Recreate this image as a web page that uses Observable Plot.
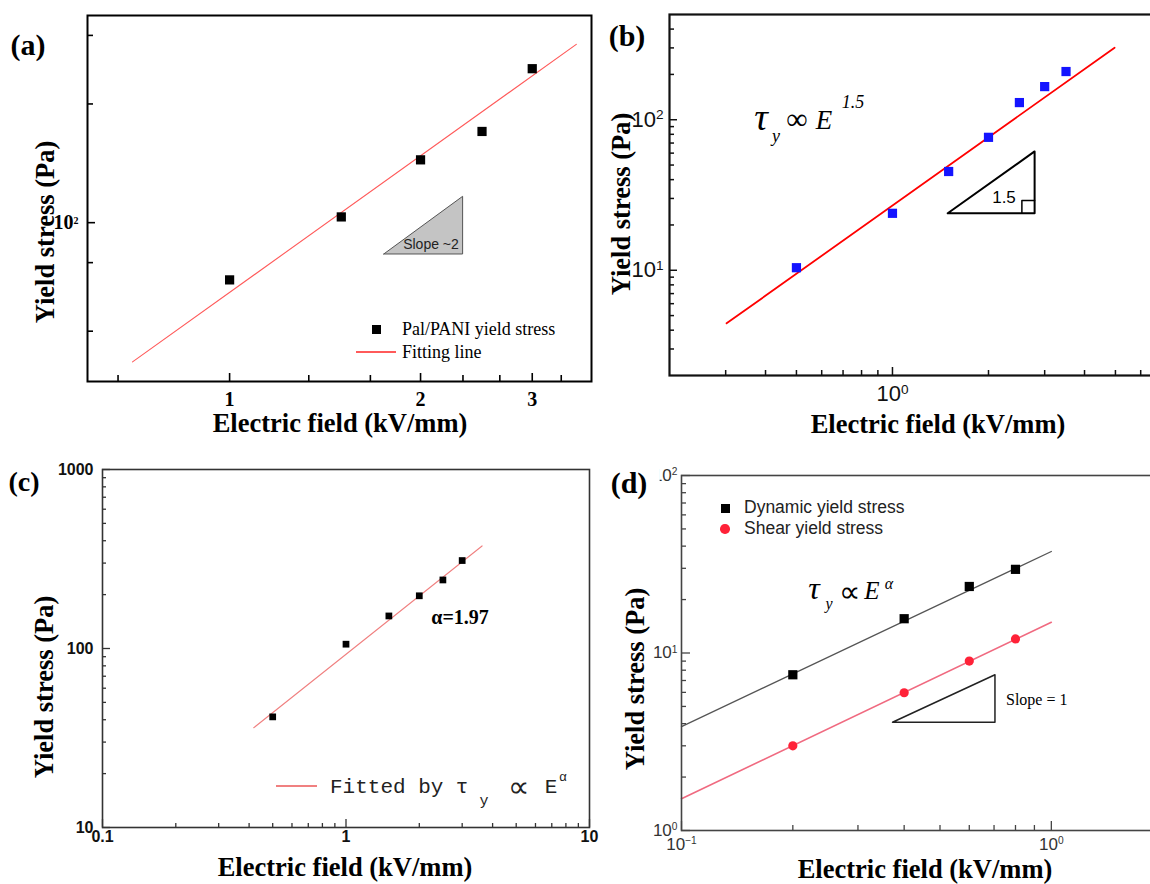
<!DOCTYPE html>
<html>
<head>
<meta charset="utf-8">
<script src="https://cdn.jsdelivr.net/npm/d3@7"></script>
<script src="https://cdn.jsdelivr.net/npm/@observablehq/plot@0.6"></script>
<style>
html,body{margin:0;padding:0;background:#fff;overflow:hidden;width:1150px;height:884px}
#fig{position:relative;width:1150px;height:884px;overflow:hidden;background:#fff}
.panel{position:absolute}
.panel svg{max-width:none !important}
.lbl{position:absolute;white-space:nowrap;line-height:1}
.serif{font-family:"Liberation Serif","Times New Roman",serif}
.sans{font-family:"Liberation Sans",Arial,sans-serif}
.mono{font-family:"Liberation Mono","DejaVu Sans Mono",monospace}
.title{font-family:"Liberation Serif","Times New Roman",serif;font-weight:bold;font-size:26.5px;color:#000}
</style>
</head>
<body>
<div id="fig"></div>
<script>
// ---------------- DATA ----------------
// (a) Pal/PANI
const fieldA = [1, 1.5, 2, 2.5, 3];
const stressA = [56, 106, 189, 252, 476];
const fitFieldA = [0.703, 3.52];
const fitStressA = [24.4, 609];
const slopeFieldA = [1.75, 2.33, 2.33, 1.75];
const slopeStressA = [72.8, 72.8, 130.6, 72.8];
const xTicksA = [1, 2, 3];
const xTickLabelsA = ["1", "2", "3"];
const xMinorA = [0.667, 1.333, 1.667, 2.333, 2.667, 3.333];
const yTicksA = [100];
const yTickLabelsA = ["10\u00B2"];
const yMinorA = [33.3, 66.7, 333, 667];

// (b)
const fieldB = [0.5, 1, 1.5, 2, 2.5, 3, 3.5];
const stressB = [10.4, 23.9, 45.3, 76.4, 130, 166, 209];
const fitFieldB = [0.302, 4.97];
const fitStressB = [4.44, 301];
const slopeFieldB = [1.49, 2.79, 2.79, 1.49];
const slopeStressB = [23.9, 23.9, 61.6, 23.9];
const cornerFieldB = [2.545, 2.545, 2.79];
const cornerStressB = [23.9, 29.1, 29.1];
const xTicksB = [1];
const xTickLabelsB = ["10\u2070"];
const xMinorB = [0.3, 0.4, 0.5, 0.6, 0.7, 0.8, 0.9, 2, 3, 4, 5, 6, 7];
const yTicksB = [10, 100];
const yTickLabelsB = ["10\u00B9", "10\u00B2"];
const yMinorB = [3, 4, 5, 6, 7, 8, 9, 20, 30, 40, 50, 60, 70, 80, 90, 200, 300, 400];

// (c)
const fieldC = [0.5, 1, 1.5, 2, 2.5, 3];
const stressC = [41.5, 105.7, 152, 197, 241.5, 310];
const fitFieldC = [0.418, 3.62];
const fitStressC = [36.1, 374];
const xTicksC = [0.1, 1, 10];
const xTickLabelsC = ["0.1", "1", "10"];
const xMinorC = [0.2, 0.3, 0.4, 0.5, 0.6, 0.7, 0.8, 0.9, 2, 3, 4, 5, 6, 7, 8, 9];
const yTicksC = [10, 100, 1000];
const yTickLabelsC = ["10", "100", "1000"];
const yMinorC = [20, 30, 40, 50, 60, 70, 80, 90, 200, 300, 400, 500, 600, 700, 800, 900];

// (d)
const fieldD = [0.2, 0.4, 0.6, 0.8];
const dynamicD = [7.54, 15.6, 23.7, 29.6];
const shearD = [3.0, 5.97, 9.0, 12.0];
const fitFieldD = [0.1, 1];
const fitDynamicD = [3.85, 37.3];
const fitShearD = [1.51, 14.9];
const slopeFieldD = [0.372, 0.704, 0.704, 0.372];
const slopeStressD = [4.07, 4.07, 7.54, 4.07];
const xTicksD = [0.1, 1];
const xTickLabelsD = ["10\u207B\u00B9", "10\u2070"];
const xMinorD = [0.2, 0.3, 0.4, 0.5, 0.6, 0.7, 0.8, 0.9, 2];
const yTicksD = [1, 10, 100];
const yTickLabelsD = ["10\u2070", "10\u00B9", "10\u00B2"];
const yMinorD = [2, 3, 4, 5, 6, 7, 8, 9, 20, 30, 40, 50, 60, 70, 80, 90];

// ---------------- HELPERS ----------------
const zip = (xs, ys) => xs.map((x, i) => ({x, y: ys[i]}));
const fmt = (vals, labels) => { const m = new Map(vals.map((v, i) => [v, labels[i]])); return d => m.get(d) ?? ""; };
const fig = document.getElementById("fig");
const SUP = {"\u2070": "0", "\u00B9": "1", "\u00B2": "2", "\u00B3": "3", "\u207B": "\u2212"};

// inward ticks drawn with the library's axis marks (negative tick size = inside the frame)
function tickMarks(c) {
  const s = {stroke: c.tickColor, strokeWidth: c.tickWidth, fill: "none", label: null, tickFormat: () => ""};
  return [
    Plot.axisX(c.xMajor, {tickSize: -c.majLen, ...s}),
    Plot.axisX(c.xMinor, {tickSize: -c.minLen, ...s}),
    Plot.axisY(c.yMajor, {tickSize: -c.majLen, ...s}),
    Plot.axisY(c.yMinor, {tickSize: -c.minLen, ...s})
  ];
}

function styleTickLabels(svg, c) {
  svg.querySelectorAll('g[aria-label$="tick label"]').forEach(g => {
    g.style.fontSize = c.tickFont + "px";
    g.style.fontFamily = c.tickFamily;
    g.style.fontWeight = c.tickWeight;
    g.setAttribute("fill", c.tickTextColor);
    g.querySelectorAll("text").forEach(t => {
      const s = t.textContent;
      const m = s.match(/^([0-9.]+)([\u2070\u00B9\u00B2\u00B3\u207B]+)$/);
      if (!m) return;
      t.textContent = "";
      const ns = "http://www.w3.org/2000/svg";
      const base = document.createElementNS(ns, "tspan");
      base.textContent = m[1];
      const sup = document.createElementNS(ns, "tspan");
      sup.textContent = [...m[2]].map(ch => SUP[ch]).join("");
      sup.setAttribute("dy", "-0.55em");
      sup.setAttribute("font-size", c.supScale + "em");
      t.appendChild(base);
      t.appendChild(sup);
    });
  });
}

function panel(c) {
  const svg = Plot.plot({
    width: c.width, height: c.height,
    marginTop: c.mt, marginRight: c.mr, marginBottom: c.mb, marginLeft: c.ml,
    x: {type: "log", domain: c.xDomain},
    y: {type: "log", domain: c.yDomain},
    style: {background: "transparent", overflow: "visible", maxWidth: "none"},
    marks: [
      ...c.marks,
      ...tickMarks(c),
      Plot.axisX(c.xMajor, {tickSize: 0, tickPadding: c.xPad, tickFormat: fmt(c.xMajor, c.xLabels),
        label: null, fontSize: c.tickFont, fontFamily: c.tickFamily, fontWeight: c.tickWeight, color: c.tickTextColor}),
      Plot.axisY(c.yMajor, {tickSize: 0, tickPadding: c.yPad, tickFormat: fmt(c.yMajor, c.yLabels),
        label: null, fontSize: c.tickFont, fontFamily: c.tickFamily, fontWeight: c.tickWeight, color: c.tickTextColor}),
      Plot.frame({stroke: c.frameColor, strokeWidth: c.frameWidth})
    ]
  });
  svg.style.maxWidth = "none";
  styleTickLabels(svg, c);
  const d = document.createElement("div");
  d.className = "panel";
  d.style.left = c.left + "px";
  d.style.top = c.top + "px";
  d.style.width = c.width + "px";
  d.style.height = c.height + "px";
  d.appendChild(svg);
  fig.appendChild(d);
}

function text(str, x, y, cls, style = {}, anchor = "center", rotate = false) {
  const d = document.createElement("div");
  d.className = "lbl " + cls;
  d.innerHTML = str;
  Object.assign(d.style, style);
  d.style.left = x + "px";
  d.style.top = y + "px";
  const tx = anchor === "center" ? "-50%" : "0";
  d.style.transform = `translate(${tx},-50%)` + (rotate ? " rotate(-90deg)" : "");
  fig.appendChild(d);
  return d;
}
function box(x, y, w, h, style) {
  const d = document.createElement("div");
  d.style.position = "absolute";
  d.style.left = (x - w / 2) + "px";
  d.style.top = (y - h / 2) + "px";
  d.style.width = w + "px";
  d.style.height = h + "px";
  Object.assign(d.style, style);
  fig.appendChild(d);
}

// ---------------- PANEL (a) ----------------
panel({
  left: 0, top: 0, width: 600, height: 440, mt: 15, mr: 9, mb: 59, ml: 87,
  xDomain: [0.597, 3.72], yDomain: [20, 816],
  xMajor: xTicksA, xMinor: xMinorA, yMajor: yTicksA, yMinor: yMinorA,
  xLabels: xTickLabelsA, yLabels: yTickLabelsA,
  majLen: 8, minLen: 6, tickColor: "#000", tickWidth: 1.6,
  xPad: 10, yPad: 9, tickFont: 20, tickFamily: "Liberation Serif", tickWeight: "bold", tickTextColor: "#000",
  supScale: 0.5,
  frameColor: "#000", frameWidth: 2,
  marks: [
    Plot.line(zip(slopeFieldA, slopeStressA), {x: "x", y: "y", fill: "#c4c4c4", stroke: "#555", strokeWidth: 1}),
    Plot.line(zip(fitFieldA, fitStressA), {x: "x", y: "y", stroke: "#ff5a5a", strokeWidth: 1.1}),
    Plot.dot(zip(fieldA, stressA), {x: "x", y: "y", symbol: "square", r: 5.2, fill: "#000", stroke: "none"})
  ]
});

// ---------------- PANEL (b) ----------------
panel({
  left: 595, top: 0, width: 580, height: 440, mt: 14, mr: 5, mb: 65, ml: 74,
  xDomain: [0.2, 7.44], yDomain: [2, 500],
  xMajor: xTicksB, xMinor: xMinorB, yMajor: yTicksB, yMinor: yMinorB,
  xLabels: xTickLabelsB, yLabels: yTickLabelsB,
  majLen: 8, minLen: 5, tickColor: "#111", tickWidth: 1.5,
  xPad: 10, yPad: 6, tickFont: 22, tickFamily: "Liberation Sans", tickWeight: "normal", tickTextColor: "#111",
  supScale: 0.62,
  frameColor: "#111", frameWidth: 2.2,
  marks: [
    Plot.line(zip(slopeFieldB, slopeStressB), {x: "x", y: "y", stroke: "#000", strokeWidth: 2}),
    Plot.line(zip(cornerFieldB, cornerStressB), {x: "x", y: "y", stroke: "#000", strokeWidth: 1.5}),
    Plot.line(zip(fitFieldB, fitStressB), {x: "x", y: "y", stroke: "#ff0000", strokeWidth: 1.8}),
    Plot.dot(zip(fieldB, stressB), {x: "x", y: "y", symbol: "square", r: 5.2, fill: "#1414ff", stroke: "none"})
  ]
});

// ---------------- PANEL (c) ----------------
panel({
  left: 0, top: 440, width: 600, height: 444, mt: 29, mr: 11, mb: 57, ml: 102,
  xDomain: [0.1, 10], yDomain: [10, 1000],
  xMajor: xTicksC, xMinor: xMinorC, yMajor: yTicksC, yMinor: yMinorC,
  xLabels: xTickLabelsC, yLabels: yTickLabelsC,
  majLen: 8, minLen: 4, tickColor: "#333", tickWidth: 1.3,
  xPad: 3, yPad: 9, tickFont: 16, tickFamily: "Liberation Sans", tickWeight: "bold", tickTextColor: "#111",
  supScale: 0.6,
  frameColor: "#333", frameWidth: 1.6,
  marks: [
    Plot.line(zip(fitFieldC, fitStressC), {x: "x", y: "y", stroke: "#f08080", strokeWidth: 1.1}),
    Plot.dot(zip(fieldC, stressC), {x: "x", y: "y", symbol: "square", r: 3.8, fill: "#000", stroke: "none"})
  ]
});

// ---------------- PANEL (d) ----------------
panel({
  left: 595, top: 440, width: 580, height: 444, mt: 35, mr: 5, mb: 54, ml: 86,
  xDomain: [0.1, 2.1], yDomain: [1, 100],
  xMajor: xTicksD, xMinor: xMinorD, yMajor: yTicksD, yMinor: yMinorD,
  xLabels: xTickLabelsD, yLabels: yTickLabelsD,
  majLen: 9, minLen: 5, tickColor: "#444", tickWidth: 1.3,
  xPad: 7, yPad: 4, tickFont: 17, tickFamily: "Liberation Sans", tickWeight: "normal", tickTextColor: "#333",
  supScale: 0.6,
  frameColor: "#444", frameWidth: 1.6,
  marks: [
    Plot.line(zip(slopeFieldD, slopeStressD), {x: "x", y: "y", stroke: "#222", strokeWidth: 1.5}),
    Plot.line(zip(fitFieldD, fitDynamicD), {x: "x", y: "y", stroke: "#555", strokeWidth: 1.3}),
    Plot.line(zip(fitFieldD, fitShearD), {x: "x", y: "y", stroke: "#f06a80", strokeWidth: 1.6}),
    Plot.dot(zip(fieldD, dynamicD), {x: "x", y: "y", symbol: "square", r: 5.2, fill: "#000", stroke: "none"}),
    Plot.dot(zip(fieldD, shearD), {x: "x", y: "y", r: 4.6, fill: "#ff2238", stroke: "none"})
  ]
});

// ---------------- TEXT OVERLAYS ----------------
// panel letters
text("(a)", 28, 45, "serif", {fontSize: "30px", fontWeight: "bold"});
text("(b)", 627, 36, "serif", {fontSize: "30px", fontWeight: "bold"});
text("(c)", 24, 482, "serif", {fontSize: "28px", fontWeight: "bold"});
text("(d)", 634, 483, "serif", {fontSize: "30px", fontWeight: "bold", background: "#fff", padding: "2px 12px 2px 2px"});

// axis titles
const xt = "Electric field (kV/mm)", yt = "Yield stress (Pa)";
text(xt, 340, 423, "title");
text(yt, 45, 232, "title", {}, "center", true);
text(xt, 938, 424, "title");
text(yt, 621, 204, "title", {}, "center", true);
text(xt, 345, 867, "title");
text(yt, 44, 687, "title", {}, "center", true);
text(xt, 925, 869, "title");
text(yt, 635, 679, "title", {}, "center", true);

// (a) annotations & legend
text("Slope ~2", 431, 244, "sans", {fontSize: "14px", color: "#222"});
box(376, 329, 9, 9, {background: "#000"});
text("Pal/PANI yield stress", 402, 329, "serif", {fontSize: "18px"}, "left");
box(376, 352, 40, 1.2, {background: "#ff5a5a"});
text("Fitting line", 402, 352, "serif", {fontSize: "18px"}, "left");

// (b) annotations
text("\u03C4", 761, 117, "serif", {fontSize: "38px", fontStyle: "italic"});
text("y", 776, 136, "serif", {fontSize: "18px", fontStyle: "italic"});
text("\u221E", 797, 119, "serif", {fontSize: "30px"});
text("E", 824, 120, "serif", {fontSize: "27px", fontStyle: "italic"});
text("1.5", 853, 102, "serif", {fontSize: "18px", fontStyle: "italic"});
text("1.5", 1004, 197, "sans", {fontSize: "17px"});

// (c) annotations & legend
text("\u03B1=1.97", 460, 617, "serif", {fontSize: "20px", fontWeight: "bold"});
box(296.5, 786, 41, 1.2, {background: "#f08080"});
text("Fitted by", 330, 787, "mono", {fontSize: "21px", color: "#222"}, "left");
text("\u03C4", 462, 787, "mono", {fontSize: "21px", color: "#222"});
text("y", 484, 801, "mono", {fontSize: "15px", color: "#222"});
text("\u221D", 518, 787, "serif", {fontSize: "30px", color: "#222"});
text("E", 551, 787, "mono", {fontSize: "21px", color: "#222"});
text("\u03B1", 563, 777, "mono", {fontSize: "13px", color: "#222"});

// (d) annotations & legend
box(725, 508, 9, 9, {background: "#000"});
text("Dynamic yield stress", 744, 508, "sans", {fontSize: "17.5px", color: "#222"}, "left");
box(725, 529, 9.5, 9.5, {background: "#ff2238", borderRadius: "50%"});
text("Shear yield stress", 744, 529, "sans", {fontSize: "17.5px", color: "#222"}, "left");
text("\u03C4", 814, 588, "serif", {fontSize: "32px", fontStyle: "italic"});
text("y", 829, 604, "serif", {fontSize: "16px", fontStyle: "italic"});
text("\u221D", 849, 592, "serif", {fontSize: "30px"});
text("E", 872, 590, "serif", {fontSize: "25px", fontStyle: "italic"});
text("\u03B1", 889, 584, "serif", {fontSize: "16px", fontStyle: "italic"});
text("Slope = 1", 1006, 700, "serif", {fontSize: "16px"}, "left");
</script>
</body>
</html>
